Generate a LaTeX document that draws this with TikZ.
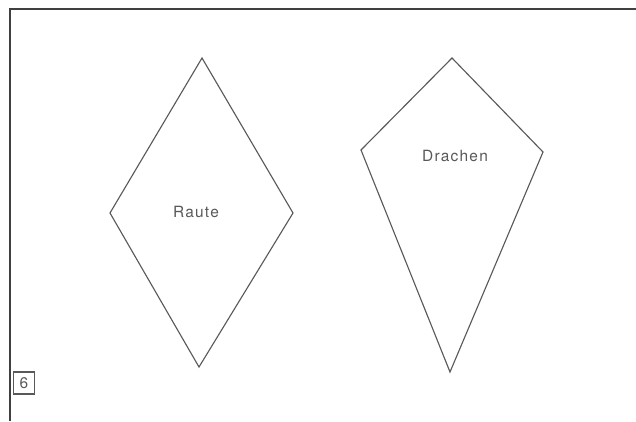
\documentclass[tikz,border=0pt]{standalone}
\usepackage{fontspec}
\setsansfont{TeX Gyre Heros}
\newfontfamily\widesans[LetterSpace=8]{TeX Gyre Heros}
\usepackage{xcolor}
\definecolor{linegray}{gray}{0.35}
\definecolor{framegray}{gray}{0.25}
\tikzset{
    % line styles
    myline/.style={draw=linegray, line width=0.8pt, line join=miter},
    myframe/.style={draw=framegray, line width=1.5pt},
    mylab/.style={font=\widesans\fontsize{11}{13}\selectfont, text=linegray},
    mynum/.style={draw=linegray, line width=1pt, font=\sffamily\fontsize{11}{13}\selectfont, text=linegray, minimum width=0.52cm, minimum height=0.55cm, inner sep=0pt}
}
\begin{document}
\begin{tikzpicture}[x=0.025cm, y=-0.025cm]
    \useasboundingbox (0,0) rectangle (636,421);
    % frame
    \coordinate (F1) at (10,421);
    \coordinate (F2) at (10,9);
    \coordinate (F3) at (636,9);
    \draw[myframe] (F1) -- (F2) -- (F3);

    % Raute
    \coordinate (R1) at (202,58);
    \coordinate (R2) at (293,213);
    \coordinate (R3) at (199,367);
    \coordinate (R4) at (110,213);
    \node (RL) at (196,212) [mylab] {Raute};

    % Drachen
    \coordinate (D1) at (452,58);
    \coordinate (D2) at (543,152);
    \coordinate (D3) at (450,372);
    \coordinate (D4) at (361,150);
    \node (DL) at (455,156) [mylab] {Drachen};

    % number
    \node (N) at (24,383) [mynum] {6};

     % SHAPES
       \draw[myline] (R1) -- (R2) -- (R3) -- (R4) -- cycle;
       \draw[myline] (D1) -- (D2) -- (D3) -- (D4) -- cycle;

\end{tikzpicture}
\end{document}
